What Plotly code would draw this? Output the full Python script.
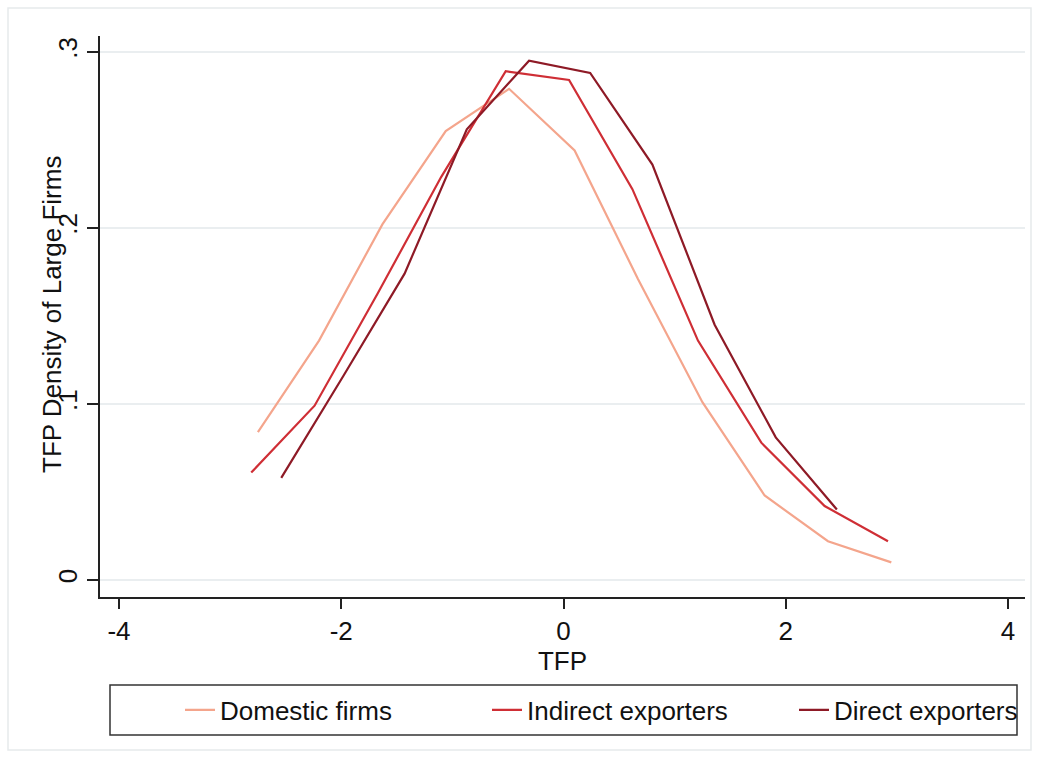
import plotly.graph_objects as go

# Data
dom_x = [-2.75, -2.20, -1.63, -1.06, -0.49, 0.10, 0.67, 1.25, 1.81, 2.38, 2.95]
dom_y = [0.084, 0.136, 0.202, 0.255, 0.279, 0.244, 0.171, 0.101, 0.048, 0.022, 0.010]

ind_x = [-2.81, -2.24, -1.67, -1.10, -0.52, 0.05, 0.62, 1.21, 1.78, 2.35, 2.92]
ind_y = [0.061, 0.099, 0.163, 0.229, 0.289, 0.284, 0.222, 0.136, 0.078, 0.042, 0.022]

dir_x = [-2.54, -1.98, -1.43, -0.87, -0.31, 0.24, 0.80, 1.36, 1.91, 2.46]
dir_y = [0.058, 0.116, 0.174, 0.256, 0.295, 0.288, 0.236, 0.145, 0.081, 0.040]

series_names = ["Domestic firms", "Indirect exporters", "Direct exporters"]
colors = ["#F4A58C", "#CF2E35", "#8E1A26"]

x_ticks = [-4, -2, 0, 2, 4]
x_ticklabels = ["-4", "-2", "0", "2", "4"]
y_ticks = [0, 0.1, 0.2, 0.3]
y_ticklabels = ["0", ".1", ".2", ".3"]

FONT = "Liberation Sans, Arial, Helvetica, sans-serif"
FS = 26

fig = go.Figure()
for xs, ys, name, c in zip([dom_x, ind_x, dir_x], [dom_y, ind_y, dir_y], series_names, colors):
    fig.add_trace(go.Scatter(x=xs, y=ys, mode="lines", name=name,
                             line=dict(color=c, width=2.2)))

W, H = 1039, 761
L, R, T, B = 100, 14, 36, 164
pw, ph = W - L - R, H - T - B

fig.update_layout(
    width=W, height=H,
    margin=dict(l=L, r=R, t=T, b=B, autoexpand=False),
    paper_bgcolor="white", plot_bgcolor="white",
    font=dict(family=FONT, size=FS, color="#111111"),
    showlegend=True,
    legend=dict(orientation="h", x=(180 - L) / pw, xanchor="left",
                y=-(710 - (H - B)) / ph, yanchor="middle",
                entrywidth=262, entrywidthmode="pixels",
                font=dict(size=FS, family=FONT, color="#111111"),
                bgcolor="rgba(0,0,0,0)", borderwidth=0),
    xaxis=dict(range=[-4.171, 4.153], tickmode="array", tickvals=x_ticks,
               ticktext=x_ticklabels, ticks="outside", ticklen=10, tickwidth=1.5,
               tickcolor="#222222", showline=True, linecolor="#222222", linewidth=1.5,
               showgrid=False, zeroline=False,
               tickfont=dict(size=FS, family=FONT),
               title=dict(text="TFP", font=dict(size=FS, family=FONT), standoff=2)),
    yaxis=dict(range=[-0.00966, 0.309], tickmode="array", tickvals=y_ticks,
               ticktext=y_ticklabels, ticks="outside", ticklen=11, tickwidth=1.5,
               tickcolor="#222222", showline=True, linecolor="#222222", linewidth=1.5,
               showgrid=True, gridcolor="#EAEEF0", gridwidth=1.5, zeroline=False,
               tickangle=-90, tickfont=dict(size=FS, family=FONT)),
    annotations=[dict(text="TFP Density of Large Firms", textangle=-90,
                      xref="paper", yref="paper",
                      x=-(L - 52) / pw, y=(H - B - 315) / ph,
                      xanchor="center", yanchor="middle", showarrow=False,
                      font=dict(size=FS, family=FONT, color="#111111"))],
    shapes=[
        # legend box
        dict(type="rect", xref="paper", yref="paper",
             x0=(110 - L) / pw, x1=(1017 - L) / pw,
             y0=-(735 - (H - B)) / ph, y1=-(685 - (H - B)) / ph,
             line=dict(color="#333333", width=1.5), fillcolor="rgba(0,0,0,0)"),
        # faint outer frame of graph region
        dict(type="rect", xref="paper", yref="paper",
             x0=(8 - L) / pw, x1=(1031 - L) / pw,
             y0=-(750 - (H - B)) / ph, y1=(H - B - 8) / ph,
             line=dict(color="#E6EAEC", width=1.5), fillcolor="rgba(0,0,0,0)", layer="below"),
    ],
)

fig.write_html("out.html")
